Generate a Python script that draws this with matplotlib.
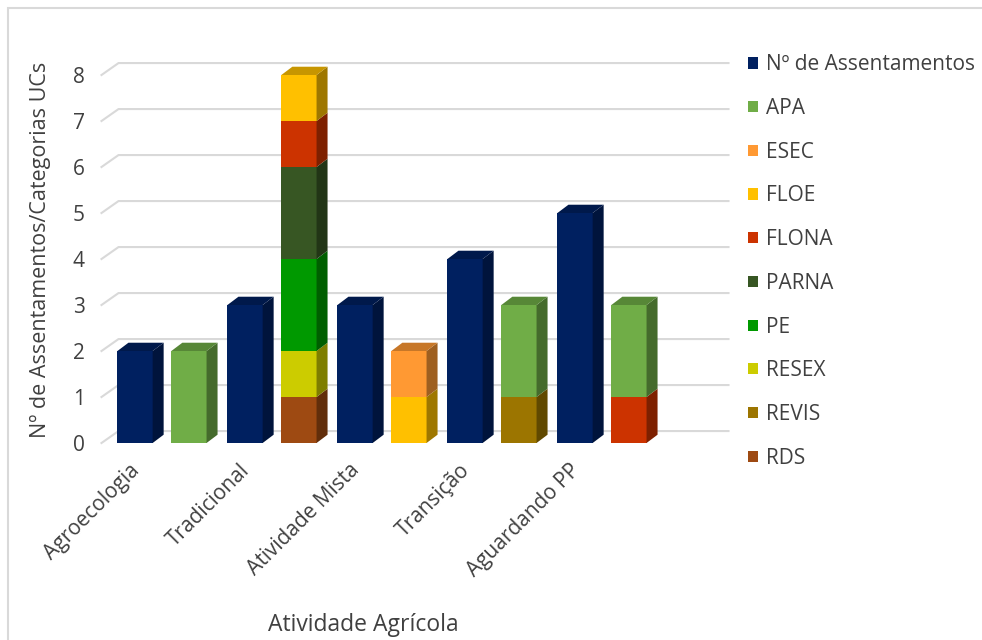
import matplotlib
matplotlib.use('Agg')
import matplotlib.pyplot as plt
from matplotlib.patches import Polygon, Patch, Rectangle
from matplotlib.colors import to_rgb

plt.rcParams['font.family'] = ['Open Sans', 'DejaVu Sans']

# dados
categorias = ['Agroecologia', 'Tradicional', 'Atividade Mista', 'Transição', 'Aguardando PP']
assentamentos = [2, 3, 3, 4, 5]

ucs = ['APA', 'ESEC', 'FLOE', 'FLONA', 'PARNA', 'PE', 'RESEX', 'REVIS', 'RDS']
APA = [2, 0, 0, 2, 2]
ESEC = [0, 0, 1, 0, 0]
FLOE = [0, 1, 1, 0, 0]
FLONA = [0, 1, 0, 0, 1]
PARNA = [0, 2, 0, 0, 0]
PE = [0, 2, 0, 0, 0]
RESEX = [0, 1, 0, 0, 0]
REVIS = [0, 0, 0, 1, 0]
RDS = [0, 1, 0, 0, 0]
valores_ucs = [APA, ESEC, FLOE, FLONA, PARNA, PE, RESEX, REVIS, RDS]

cor_assent = '#002060'
cores_ucs = ['#70AD47', '#FF9933', '#FFC000', '#CC3300', '#375623',
             '#009900', '#CCCC00', '#9C7500', '#9E4A12']
cor_texto = '#404040'

fig = plt.figure(figsize=(9.82, 6.40), dpi=100)
fig.patches.append(Rectangle((8 / 982, -0.1), 1.2, 1 - 8 / 640 + 0.1, transform=fig.transFigure,
                             fill=False, edgecolor='#d9d9d9', linewidth=1.5))

ax = fig.add_axes([101.5 / 982, 197 / 640, 627 / 982, 391 / 640])
ax.set_xlim(-0.55, 5.15)
ax.set_ylim(0, 8.5)
for s in ax.spines.values():
    s.set_visible(False)

# profundidade (efeito 3D)
gdx, gdy = 0.155, 0.26
bdx, bdy = 0.10, 0.18
largura = 0.32
desloc = 0.245


def escurecer(c, f):
    r, g, b = to_rgb(c)
    return (r * f, g * f, b * f)


# linhas de grade (parede de fundo)
for v in range(0, 9):
    ax.plot([-0.55, -0.55 + gdx, 5.15], [v, v + gdy, v + gdy], color='#d9d9d9',
            linewidth=1.5, zorder=0, clip_on=False)


def barra3d(x, base, altura, cor, topo=True):
    x0 = x - largura / 2
    x1 = x + largura / 2
    ax.bar(x, altura, width=largura, bottom=base, color=cor, linewidth=0, zorder=2)
    lado = [(x1, base), (x1 + bdx, base + bdy), (x1 + bdx, base + altura + bdy), (x1, base + altura)]
    ax.add_patch(Polygon(lado, closed=True, facecolor=escurecer(cor, 0.62), linewidth=0, zorder=2))
    if topo:
        cima = [(x0, base + altura), (x0 + bdx, base + altura + bdy),
                (x1 + bdx, base + altura + bdy), (x1, base + altura)]
        ax.add_patch(Polygon(cima, closed=True, facecolor=escurecer(cor, 0.78), linewidth=0, zorder=2))


for i, a in enumerate(assentamentos):
    barra3d(i - desloc, 0, a, cor_assent)

# empilhadas (RDS embaixo, APA em cima)
for i in range(len(categorias)):
    base = 0
    pilha = [(valores_ucs[k][i], cores_ucs[k]) for k in range(len(ucs) - 1, -1, -1) if valores_ucs[k][i] > 0]
    for j, (v, c) in enumerate(pilha):
        barra3d(i + desloc, base, v, c, topo=(j == len(pilha) - 1))
        base += v

ax.set_yticks(range(0, 9))
ax.tick_params(axis='y', length=0, pad=12, labelsize=15, labelcolor=cor_texto)
ax.set_xticks([i - 0.3 for i in range(len(categorias))])
ax.set_xticklabels(categorias, rotation=45, ha='right', rotation_mode='anchor', fontsize=15, color=cor_texto)
ax.tick_params(axis='x', length=0, pad=12)

fig.text(40 / 982, 1 - 250 / 640, 'Nº de Assentamentos/Categorias UCs', rotation=90,
         ha='center', va='center', fontsize=15.5, color=cor_texto)
fig.text(363 / 982, 1 - 625 / 640, 'Atividade Agrícola', ha='center', va='center',
         fontsize=16.5, color=cor_texto)

handles = [Patch(facecolor=cor_assent, label='Nº de Assentamentos')]
handles += [Patch(facecolor=c, label=n) for n, c in zip(ucs, cores_ucs)]
fig.legend(handles=handles, loc='upper left', bbox_to_anchor=(740 / 982, 1 - 46 / 640),
           frameon=False, fontsize=15, handlelength=0.45, handleheight=0.45,
           handletextpad=0.4, labelspacing=1.09, labelcolor=cor_texto, borderaxespad=0)

fig.savefig('out.png', dpi=100)
